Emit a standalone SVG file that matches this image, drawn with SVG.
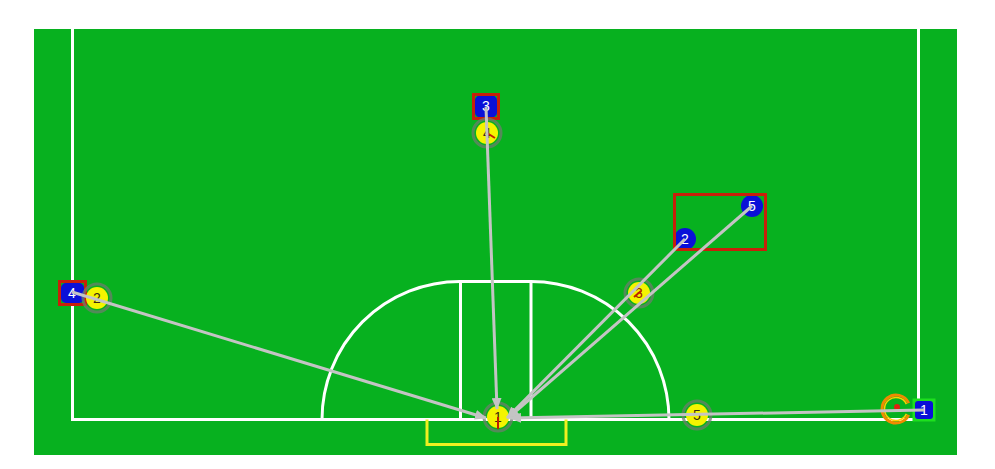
<svg xmlns="http://www.w3.org/2000/svg" width="995" height="469" viewBox="0 0 995 469">
<defs>
<style>
.fl{fill:none;stroke:#ffffff;stroke-width:3}
.halo{fill:none;stroke:#6e7d6e;stroke-opacity:0.75;stroke-width:3}
.yel{fill:#f4f400}
.blu{fill:#0a10d8}
.yt{font-family:"Liberation Sans",Arial,sans-serif;font-size:14px;fill:#3a2a10;text-anchor:middle}
.bt{font-family:"Liberation Sans",Arial,sans-serif;font-size:14px;fill:#ffffff;text-anchor:middle}
.ori{stroke:#c02000;stroke-width:2;fill:none}
.rbox{fill:none;stroke:#c8200a;stroke-width:3}
.con{stroke:#c4c4c4;stroke-width:3;fill:none}
</style>
<marker id="ah" markerUnits="userSpaceOnUse" markerWidth="12" markerHeight="10" refX="11" refY="5" orient="auto">
<path d="M0,0 L12,5 L0,10 Z" fill="#c4c4c4"/>
</marker>
</defs>
<rect width="995" height="469" fill="#ffffff"/>
<g id="field">
<rect x="34" y="29" width="923" height="426" fill="#07b11f"/>
<path class="fl" d="M72.5,29 V419.5 H918.5 V29"/>
<path class="fl" d="M322,419.5 A138,138 0 0 1 460,281.5 H531 A138,138 0 0 1 669,419.5"/>
<path class="fl" d="M460.5,281.5 V419.5 M531,281.5 V419.5"/>
<path d="M427,419.5 V444.5 H566 V419.5" fill="none" stroke="#f0f020" stroke-width="3"/>
</g>
<g id="blue3"><rect x="475" y="95.5" width="22" height="22" rx="5" class="blu"/><text x="486" y="111" class="bt">3</text><rect x="473.5" y="94.5" width="25" height="24" class="rbox"/></g>
<g id="yellow4"><circle cx="487" cy="133" r="14" class="halo"/><circle cx="487" cy="133" r="11" class="yel"/><text x="487" y="138" class="yt">4</text><path class="ori" d="M487,133 L495,138"/></g>
<g id="blue5"><circle cx="752" cy="206" r="11" class="blu"/><text x="752" y="211" class="bt">5</text></g>
<g id="blue2"><circle cx="685" cy="239" r="11" class="blu"/><text x="685" y="244" class="bt">2</text></g>
<g id="box52"><rect x="674.5" y="194.5" width="91" height="55" class="rbox"/></g>
<g id="blue4"><rect x="61" y="283" width="23" height="20" rx="5" class="blu"/><text x="72" y="298" class="bt">4</text><rect x="59.5" y="281.5" width="26" height="23" class="rbox"/></g>
<g id="yellow2"><circle cx="97" cy="298" r="14" class="halo"/><circle cx="97" cy="298" r="11" class="yel"/><text x="97" y="303" class="yt">2</text></g>
<g id="yellow3"><circle cx="639" cy="293" r="14" class="halo"/><circle cx="639" cy="293" r="11" class="yel"/><text x="639" y="298" class="yt" style="fill:#a02000">3</text><path class="ori" d="M641,291 L634,297"/></g>
<g id="yellow1"><circle cx="498" cy="417" r="14" class="halo"/><circle cx="498" cy="417" r="11" class="yel"/><text x="498" y="422" class="yt">1</text><path class="ori" d="M498,417 V429"/></g>
<g id="yellow5"><circle cx="697" cy="415" r="14" class="halo"/><circle cx="697" cy="415" r="11" class="yel"/><text x="697" y="420" class="yt">5</text></g>
<g id="ball">
<path d="M908.7,403.1 A14,14 0 1 0 908.7,414.9" fill="none" stroke="#f08a00" stroke-width="3"/>
<path d="M906.4,404.1 A11.5,11.5 0 1 0 906.4,413.9" fill="none" stroke="#ffd000" stroke-width="1.5"/>
<circle cx="897" cy="407" r="3" fill="#e02010"/>
</g>
<g id="blue1"><rect x="912.5" y="398.5" width="23" height="23" fill="#1ee01e"/><rect x="915" y="401" width="18" height="18" rx="3" class="blu"/><text x="924" y="415" class="bt">1</text></g>
<g id="connectors">
<line class="con" x1="72" y1="292" x2="486" y2="418" marker-end="url(#ah)"/>
<line class="con" x1="486" y1="107" x2="497" y2="409" marker-end="url(#ah)"/>
<line class="con" x1="752" y1="206" x2="508" y2="418" marker-end="url(#ah)"/>
<line class="con" x1="685" y1="239" x2="507" y2="418" marker-end="url(#ah)"/>
<line class="con" x1="924" y1="410" x2="510" y2="418" marker-end="url(#ah)"/>
</g>
</svg>
